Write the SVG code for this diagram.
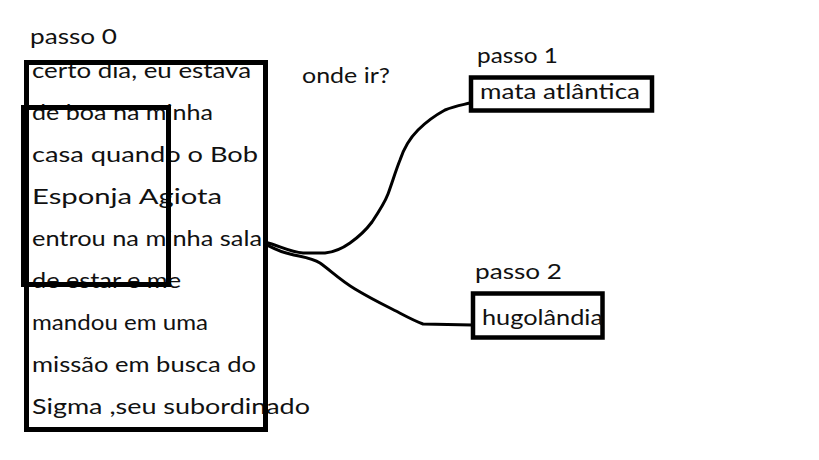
<svg xmlns="http://www.w3.org/2000/svg" width="819" height="460" viewBox="0 0 819 460">
<style>
text{font-family:"Lato","Open Sans","DejaVu Sans",sans-serif;font-size:22px;fill:#111}
.box{fill:none;stroke:#000;stroke-width:5}
.sbox{fill:none;stroke:#000;stroke-width:4.5}
.con{fill:none;stroke:#000;stroke-width:3;stroke-linecap:round;stroke-linejoin:round}
</style>
<rect width="819" height="460" fill="#fff"/>
<g id="passo0">
<text x="30" y="44" textLength="87" lengthAdjust="spacingAndGlyphs">passo 0</text>
<g id="story-text">
<text x="32" y="78" textLength="219" lengthAdjust="spacingAndGlyphs">certo dia, eu estava</text>
<text x="32" y="120" textLength="181" lengthAdjust="spacingAndGlyphs">de boa na minha</text>
<text x="32" y="162" textLength="226" lengthAdjust="spacingAndGlyphs">casa quando o Bob</text>
<text x="32" y="204" textLength="190" lengthAdjust="spacingAndGlyphs">Esponja Agiota</text>
<text x="32" y="246" textLength="230" lengthAdjust="spacingAndGlyphs">entrou na minha sala</text>
<text x="32" y="288" textLength="149" lengthAdjust="spacingAndGlyphs">de estar e me</text>
<text x="32" y="330" textLength="176" lengthAdjust="spacingAndGlyphs">mandou em uma</text>
<text x="32" y="372" textLength="224" lengthAdjust="spacingAndGlyphs">missão em busca do</text>
<text x="32" y="414" textLength="278" lengthAdjust="spacingAndGlyphs">Sigma ,seu subordinado</text>
</g>
<rect class="box" x="26.5" y="62.5" width="239" height="367"/>
<rect class="box" x="23.5" y="107.5" width="145" height="177"/>
</g>
<g id="question">
<text x="302" y="83" textLength="88" lengthAdjust="spacingAndGlyphs">onde ir?</text>
</g>
<g id="passo1">
<text x="477" y="63" textLength="81" lengthAdjust="spacingAndGlyphs">passo 1</text>
<rect class="sbox" x="471" y="77.5" width="181" height="33"/>
<text x="480" y="99" textLength="160" lengthAdjust="spacingAndGlyphs">mata atlântica</text>
</g>
<g id="passo2">
<text x="475" y="279" textLength="87" lengthAdjust="spacingAndGlyphs">passo 2</text>
<rect class="sbox" x="473" y="293.5" width="129.5" height="44"/>
<text x="482" y="325" textLength="121" lengthAdjust="spacingAndGlyphs">hugolândia</text>
</g>
<g id="connectors">
<path class="con" d="M265,242 C280,246 290,252 303,253 L325,253 C335,252 343,248 350,243 C360,236 366,230 372,222 C380,210 385,202 388,194 C393,180 396,170 400,160 C404,148 410,138 418,130 C426,122 434,116 445,110 C455,106 462,105 470,103"/>
<path class="con" d="M265,244 C275,249 280,252 290,254 C302,257 312,258 320,263 C330,270 340,280 355,289 C370,298 380,303 390,308 C402,314 412,320 423,324 L472,325"/>
</g>
</svg>
